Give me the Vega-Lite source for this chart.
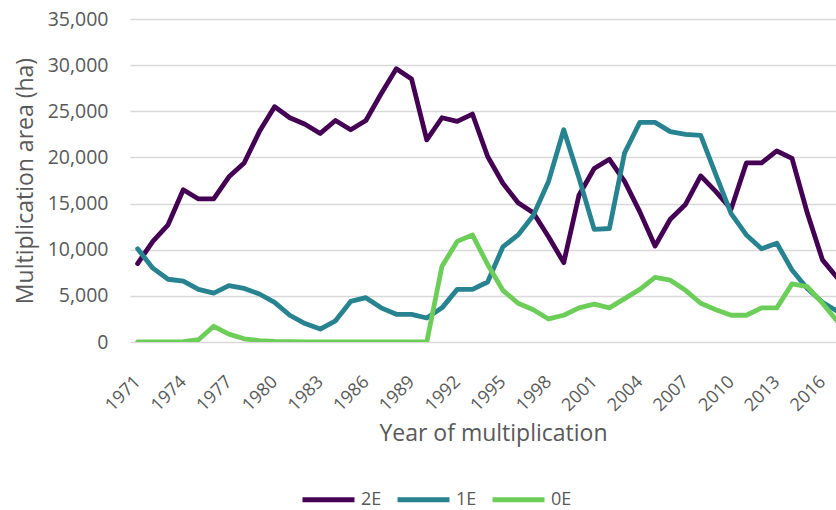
{
  "$schema": "https://vega.github.io/schema/vega-lite/v6.json",
  "width": 706,
  "height": 323,
  "autosize": {"type": "none"},
  "padding": {"left": 130, "top": 19, "right": 0, "bottom": 168},
  "background": "white",
  "config": {
    "view": {"stroke": null},
    "font": "Open Sans",
    "axis": {"labelColor": "#595959", "titleColor": "#595959", "labelFont": "Open Sans", "titleFont": "Open Sans", "titleFontWeight": "normal"},
    "legend": {"labelColor": "#595959", "labelFont": "Open Sans"}
  },
  "datasets": {
    "series": [
      {"year": 1971, "series": "2E", "area": 8500},
      {"year": 1972, "series": "2E", "area": 10900},
      {"year": 1973, "series": "2E", "area": 12700},
      {"year": 1974, "series": "2E", "area": 16500},
      {"year": 1975, "series": "2E", "area": 15500},
      {"year": 1976, "series": "2E", "area": 15500},
      {"year": 1977, "series": "2E", "area": 17900},
      {"year": 1978, "series": "2E", "area": 19400},
      {"year": 1979, "series": "2E", "area": 22800},
      {"year": 1980, "series": "2E", "area": 25500},
      {"year": 1981, "series": "2E", "area": 24300},
      {"year": 1982, "series": "2E", "area": 23600},
      {"year": 1983, "series": "2E", "area": 22600},
      {"year": 1984, "series": "2E", "area": 24000},
      {"year": 1985, "series": "2E", "area": 23000},
      {"year": 1986, "series": "2E", "area": 24000},
      {"year": 1987, "series": "2E", "area": 26900},
      {"year": 1988, "series": "2E", "area": 29600},
      {"year": 1989, "series": "2E", "area": 28500},
      {"year": 1990, "series": "2E", "area": 21900},
      {"year": 1991, "series": "2E", "area": 24300},
      {"year": 1992, "series": "2E", "area": 23900},
      {"year": 1993, "series": "2E", "area": 24700},
      {"year": 1994, "series": "2E", "area": 20100},
      {"year": 1995, "series": "2E", "area": 17200},
      {"year": 1996, "series": "2E", "area": 15100},
      {"year": 1997, "series": "2E", "area": 14000},
      {"year": 1998, "series": "2E", "area": 11400},
      {"year": 1999, "series": "2E", "area": 8600},
      {"year": 2000, "series": "2E", "area": 15900},
      {"year": 2001, "series": "2E", "area": 18800},
      {"year": 2002, "series": "2E", "area": 19800},
      {"year": 2003, "series": "2E", "area": 17400},
      {"year": 2004, "series": "2E", "area": 14100},
      {"year": 2005, "series": "2E", "area": 10400},
      {"year": 2006, "series": "2E", "area": 13300},
      {"year": 2007, "series": "2E", "area": 14900},
      {"year": 2008, "series": "2E", "area": 18000},
      {"year": 2009, "series": "2E", "area": 16300},
      {"year": 2010, "series": "2E", "area": 14400},
      {"year": 2011, "series": "2E", "area": 19400},
      {"year": 2012, "series": "2E", "area": 19400},
      {"year": 2013, "series": "2E", "area": 20700},
      {"year": 2014, "series": "2E", "area": 19900},
      {"year": 2015, "series": "2E", "area": 14000},
      {"year": 2016, "series": "2E", "area": 8900},
      {"year": 2017, "series": "2E", "area": 6900},
      {"year": 1971, "series": "1E", "area": 10100},
      {"year": 1972, "series": "1E", "area": 8000},
      {"year": 1973, "series": "1E", "area": 6800},
      {"year": 1974, "series": "1E", "area": 6600},
      {"year": 1975, "series": "1E", "area": 5700},
      {"year": 1976, "series": "1E", "area": 5300},
      {"year": 1977, "series": "1E", "area": 6100},
      {"year": 1978, "series": "1E", "area": 5800},
      {"year": 1979, "series": "1E", "area": 5200},
      {"year": 1980, "series": "1E", "area": 4300},
      {"year": 1981, "series": "1E", "area": 2900},
      {"year": 1982, "series": "1E", "area": 2000},
      {"year": 1983, "series": "1E", "area": 1400},
      {"year": 1984, "series": "1E", "area": 2300},
      {"year": 1985, "series": "1E", "area": 4400},
      {"year": 1986, "series": "1E", "area": 4800},
      {"year": 1987, "series": "1E", "area": 3700},
      {"year": 1988, "series": "1E", "area": 3000},
      {"year": 1989, "series": "1E", "area": 3000},
      {"year": 1990, "series": "1E", "area": 2600},
      {"year": 1991, "series": "1E", "area": 3700},
      {"year": 1992, "series": "1E", "area": 5700},
      {"year": 1993, "series": "1E", "area": 5700},
      {"year": 1994, "series": "1E", "area": 6500},
      {"year": 1995, "series": "1E", "area": 10300},
      {"year": 1996, "series": "1E", "area": 11600},
      {"year": 1997, "series": "1E", "area": 13700},
      {"year": 1998, "series": "1E", "area": 17400},
      {"year": 1999, "series": "1E", "area": 23000},
      {"year": 2000, "series": "1E", "area": 17800},
      {"year": 2001, "series": "1E", "area": 12200},
      {"year": 2002, "series": "1E", "area": 12300},
      {"year": 2003, "series": "1E", "area": 20500},
      {"year": 2004, "series": "1E", "area": 23800},
      {"year": 2005, "series": "1E", "area": 23800},
      {"year": 2006, "series": "1E", "area": 22800},
      {"year": 2007, "series": "1E", "area": 22500},
      {"year": 2008, "series": "1E", "area": 22400},
      {"year": 2009, "series": "1E", "area": 18100},
      {"year": 2010, "series": "1E", "area": 13900},
      {"year": 2011, "series": "1E", "area": 11600},
      {"year": 2012, "series": "1E", "area": 10100},
      {"year": 2013, "series": "1E", "area": 10700},
      {"year": 2014, "series": "1E", "area": 7800},
      {"year": 2015, "series": "1E", "area": 5800},
      {"year": 2016, "series": "1E", "area": 4300},
      {"year": 2017, "series": "1E", "area": 3300},
      {"year": 1971, "series": "0E", "area": 0},
      {"year": 1972, "series": "0E", "area": 0},
      {"year": 1973, "series": "0E", "area": 0},
      {"year": 1974, "series": "0E", "area": 30},
      {"year": 1975, "series": "0E", "area": 250},
      {"year": 1976, "series": "0E", "area": 1700},
      {"year": 1977, "series": "0E", "area": 850},
      {"year": 1978, "series": "0E", "area": 350},
      {"year": 1979, "series": "0E", "area": 150},
      {"year": 1980, "series": "0E", "area": 70},
      {"year": 1981, "series": "0E", "area": 30},
      {"year": 1982, "series": "0E", "area": 10},
      {"year": 1983, "series": "0E", "area": 0},
      {"year": 1984, "series": "0E", "area": 0},
      {"year": 1985, "series": "0E", "area": 0},
      {"year": 1986, "series": "0E", "area": 0},
      {"year": 1987, "series": "0E", "area": 0},
      {"year": 1988, "series": "0E", "area": 0},
      {"year": 1989, "series": "0E", "area": 0},
      {"year": 1990, "series": "0E", "area": 0},
      {"year": 1991, "series": "0E", "area": 8200},
      {"year": 1992, "series": "0E", "area": 10900},
      {"year": 1993, "series": "0E", "area": 11600},
      {"year": 1994, "series": "0E", "area": 8400},
      {"year": 1995, "series": "0E", "area": 5600},
      {"year": 1996, "series": "0E", "area": 4200},
      {"year": 1997, "series": "0E", "area": 3500},
      {"year": 1998, "series": "0E", "area": 2500},
      {"year": 1999, "series": "0E", "area": 2900},
      {"year": 2000, "series": "0E", "area": 3700},
      {"year": 2001, "series": "0E", "area": 4100},
      {"year": 2002, "series": "0E", "area": 3700},
      {"year": 2003, "series": "0E", "area": 4700},
      {"year": 2004, "series": "0E", "area": 5700},
      {"year": 2005, "series": "0E", "area": 7000},
      {"year": 2006, "series": "0E", "area": 6700},
      {"year": 2007, "series": "0E", "area": 5600},
      {"year": 2008, "series": "0E", "area": 4200},
      {"year": 2009, "series": "0E", "area": 3500},
      {"year": 2010, "series": "0E", "area": 2900},
      {"year": 2011, "series": "0E", "area": 2900},
      {"year": 2012, "series": "0E", "area": 3700},
      {"year": 2013, "series": "0E", "area": 3700},
      {"year": 2014, "series": "0E", "area": 6300},
      {"year": 2015, "series": "0E", "area": 6000},
      {"year": 2016, "series": "0E", "area": 4200},
      {"year": 2017, "series": "0E", "area": 2200}
    ]
  },
  "data": {"name": "series"},
  "mark": {"type": "line", "strokeWidth": 4.8, "strokeJoin": "round", "strokeCap": "round", "clip": true},
  "encoding": {
    "x": {
      "field": "year",
      "type": "quantitative",
      "scale": {"domain": [1970.5, 2016.89], "nice": false, "zero": false},
      "axis": {
        "title": "Year of multiplication",
        "values": [1971, 1974, 1977, 1980, 1983, 1986, 1989, 1992, 1995, 1998, 2001, 2004, 2007, 2010, 2013, 2016],
        "format": "d",
        "labelAngle": -45,
        "labelAlign": "right",
        "labelBaseline": "middle",
        "labelFontSize": 18,
        "labelPadding": 37,
        "labelOverlap": false,
        "labelFlush": false,
        "ticks": false,
        "domain": false,
        "grid": false,
        "titleFontSize": 23,
        "titleX": 363,
        "titleY": 98,
        "titleAlign": "center",
        "titleBaseline": "alphabetic"
      }
    },
    "y": {
      "field": "area",
      "type": "quantitative",
      "scale": {"domain": [0, 35000], "nice": false},
      "axis": {
        "title": "Multiplication area (ha)",
        "values": [0, 5000, 10000, 15000, 20000, 25000, 30000, 35000],
        "format": ",d",
        "labelFontSize": 19.5,
        "labelPadding": 22,
        "ticks": false,
        "domain": false,
        "grid": true,
        "gridColor": "#D9D9D9",
        "gridWidth": 1.5,
        "titleFontSize": 23,
        "titlePadding": 10
      }
    },
    "color": {
      "field": "series",
      "type": "nominal",
      "scale": {"domain": ["2E", "1E", "0E"], "range": ["#440154", "#26838F", "#6CCE59"]},
      "legend": {
        "title": null,
        "orient": "none",
        "direction": "horizontal",
        "legendX": 183,
        "legendY": 465,
        "symbolType": "M-2,0H2",
        "symbolSize": 676,
        "symbolStrokeWidth": 5,
        "labelFontSize": 18,
        "labelOffset": 17,
        "columnPadding": 5,
        "padding": 0
      }
    }
  }
}
